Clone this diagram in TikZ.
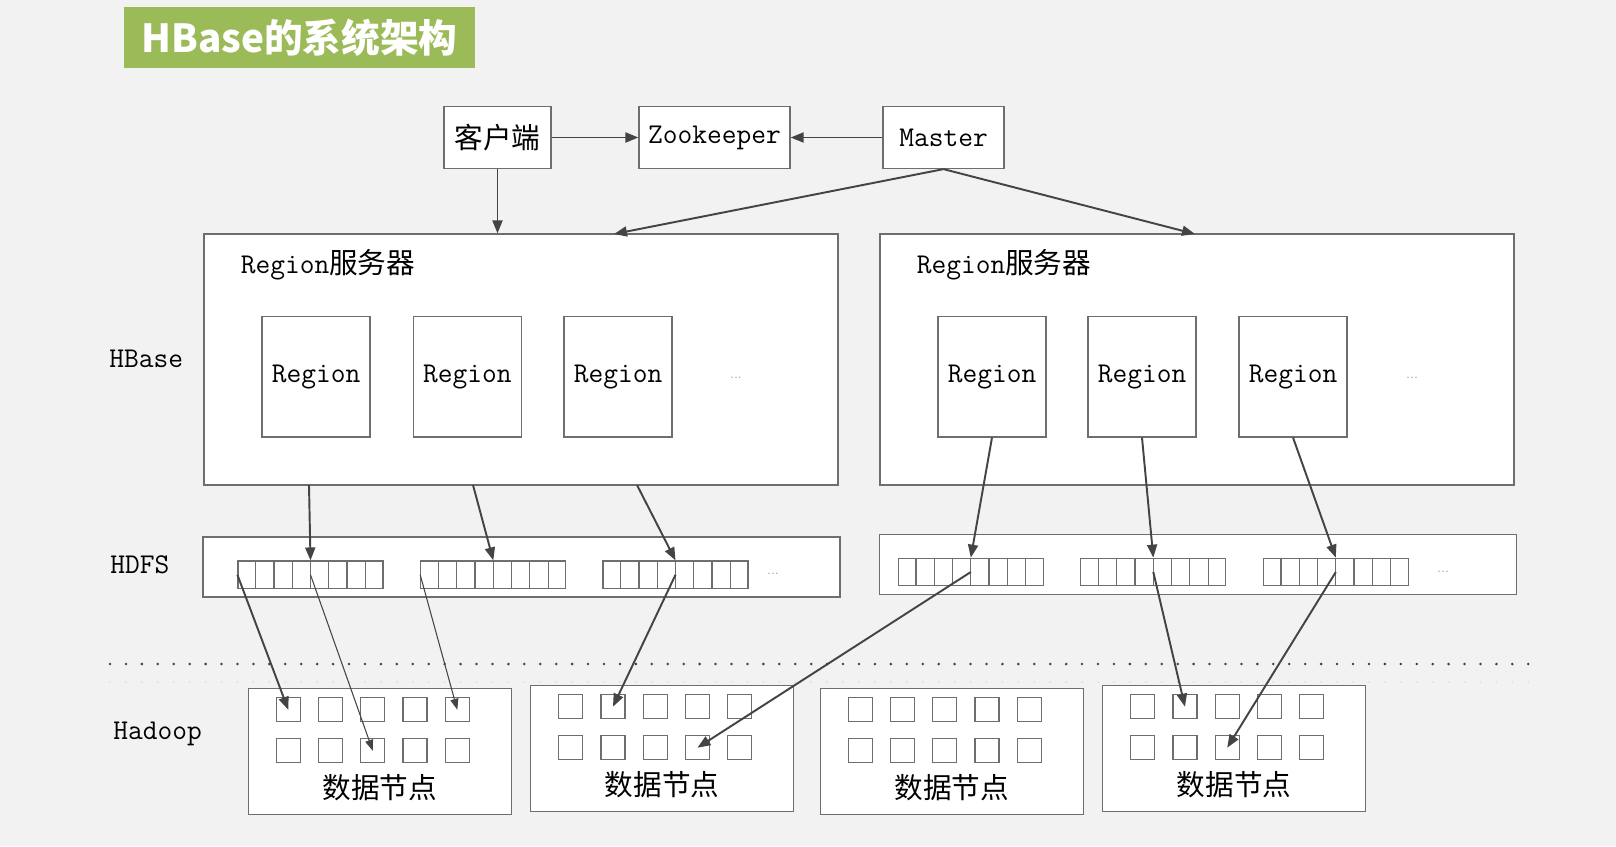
\documentclass[tikz,border=0pt]{standalone}
\usepackage{fontspec}
\newfontfamily\zh{Noto Sans CJK SC}
\usetikzlibrary{arrows.meta,positioning,calc}
\definecolor{hbGreen}{RGB}{155,187,89}
\definecolor{bgGray}{RGB}{242,242,242}
\definecolor{edgeGray}{RGB}{110,110,110}
\definecolor{arrowGray}{RGB}{68,68,68}
\newcommand{\lblfont}{\ttfamily\fontsize{16.3}{18}\selectfont}
\tikzset{
  box/.style={draw=edgeGray, fill=white, line width=0.7pt, inner sep=0pt, font=\lblfont},
  topbox/.style={box, minimum height=1.24cm},
  serverbox/.style={box, minimum width=12.68cm, minimum height=5.02cm},
  regionbox/.style={box, minimum width=2.16cm, minimum height=2.41cm},
  hdfsbox/.style={box, minimum width=12.74cm, minimum height=1.2cm},
  hdfsstrip/.style={box, minimum width=2.9cm, minimum height=0.55cm},
  nodebox/.style={box, minimum width=5.26cm, minimum height=2.52cm},
  blockcell/.style={box, minimum size=0.48cm},
  layerlabel/.style={font=\lblfont, anchor=west, inner sep=0pt},
  moredots/.style={font=\rmfamily\fontsize{7}{7}\selectfont, text=edgeGray!70, inner sep=0pt},
  arrow/.style={-{Triangle[length=2.6mm,width=2mm]}, line width=1.1pt, draw=arrowGray},
  thinarrow/.style={-{Triangle[length=2.2mm,width=1.6mm]}, line width=0.6pt, draw=arrowGray}
}
\begin{document}
\begin{tikzpicture}[x=0.02cm, y=-0.02cm]
\fill[bgGray] (0,0) rectangle (1616,846);
\useasboundingbox (0,0) rectangle (1616,846);
\node[fill=hbGreen, minimum width=7.02cm, minimum height=1.22cm, text=white,
      font=\zh\bfseries\fontsize{22}{24}\selectfont] (title) at (299.5,37.8) {HBase的系统架构};

\node[topbox, minimum width=2.14cm] (cli) at (497.5,137.5) {\zh 客户端};
\node[topbox, minimum width=3.02cm] (zk) at (714.5,137.5) {Zookeeper};
\node[topbox, minimum width=2.42cm] (mst) at (943.5,137.5) {Master};

\node[serverbox] (srvL) at (521,359.5) {};
\node[serverbox] (srvR) at (1197,359.5) {};
\node[layerlabel] (srvLname) at ($(srvL.north west)+(37,31)$) {Region{\zh 服务器}};
\node[layerlabel] (srvRname) at ($(srvR.north west)+(37,31)$) {Region{\zh 服务器}};
\foreach \x/\n in {316/rA,467.4/rB,618/rC,992/rD,1142/rE,1293/rF}
  \node[regionbox] (\n) at (\x,376.7) {Region};
\node[moredots] (dotsL) at (736,378) {...};
\node[moredots] (dotsR) at (1412,378) {...};

\node[layerlabel] (lblHBase) at (109,359) {HBase};
\node[layerlabel] (lblHDFS) at (110,565) {HDFS};
\node[layerlabel] (lblHadoop) at (113,734) {Hadoop};

\node[hdfsbox] (hdfsL) at (521.5,567) {};
\node[hdfsbox] (hdfsR) at (1198,564.5) {};
\foreach \x/\y/\n in {310.5/574.8/sA,493.3/574.8/sB,675.5/574.8/sC,970.8/572/sD,1153.3/572/sE,1335.8/572/sF}
  \node[hdfsstrip] (\n) at (\x,\y) {};
\foreach \n in {sA,sB,sC,sD,sE,sF} \foreach \k in {1,...,7}
  \draw[edgeGray, line width=0.7pt] ($(\n.north west)!\k/8!(\n.north east)$) -- ($(\n.south west)!\k/8!(\n.south east)$);
\node[moredots] (dotsHL) at (773,574) {...};
\node[moredots] (dotsHR) at (1443,572) {...};

\draw[black!75, line width=1.6pt, line cap=round, dash pattern=on 0pt off 9.07pt] (110,664) -- (1536,664);
\draw[gray!22, line width=1.4pt, line cap=round, dash pattern=on 0pt off 9.07pt] (110,682) -- (1536,682);

\foreach \i/\x/\y in {1/379.8/751.3,2/662.2/748.2,3/951.8/751.3,4/1234.2/748.2} {
  \node[nodebox] (dn\i) at (\x,\y) {};
  \node[font=\lblfont, inner sep=0pt] (lbl\i) at ($(dn\i)+(0,36.5)$) {\zh 数据节点};
  \foreach \r/\dy in {1/-41.5,2/-0.5}
    \foreach \c in {1,...,5}
      \node[blockcell] (dn\i-\r-\c) at ($(dn\i)+({-133.75+42.25*\c},\dy)$) {};
}

\draw[arrow] (cli.east) -- (zk.west);
\draw[arrow] (mst.west) -- (zk.east);
\draw[arrow] (cli.south) -- (cli.south |- srvL.north);
\coordinate (mInL) at (614,234);
\coordinate (mInR) at (1195,234);
\draw[arrow] (mst.south) -- (mInL);
\draw[arrow] (mst.south) -- (mInR);
\foreach \x/\n in {309/oA,473/oB,637/oC} \coordinate (\n) at (\x,485);
\foreach \a/\b in {oA/sA,oB/sB,oC/sC,rD.south/sD,rE.south/sE,rF.south/sF}
  \draw[arrow] (\a) -- (\b.north);
\draw[arrow] (sA.west) -- (dn1-1-1.center);
\draw[thinarrow] (sA.center) -- (dn1-2-3.center);
\draw[thinarrow] (sB.west) -- (dn1-1-5.center);
\draw[arrow] (sC.center) -- (dn2-1-2.center);
\draw[arrow] (sD.center) -- (dn2-2-4.center);
\draw[arrow] (sE.center) -- (dn4-1-2.center);
\draw[arrow] (sF.center) -- (dn4-2-3.center);
\end{tikzpicture}
\end{document}
